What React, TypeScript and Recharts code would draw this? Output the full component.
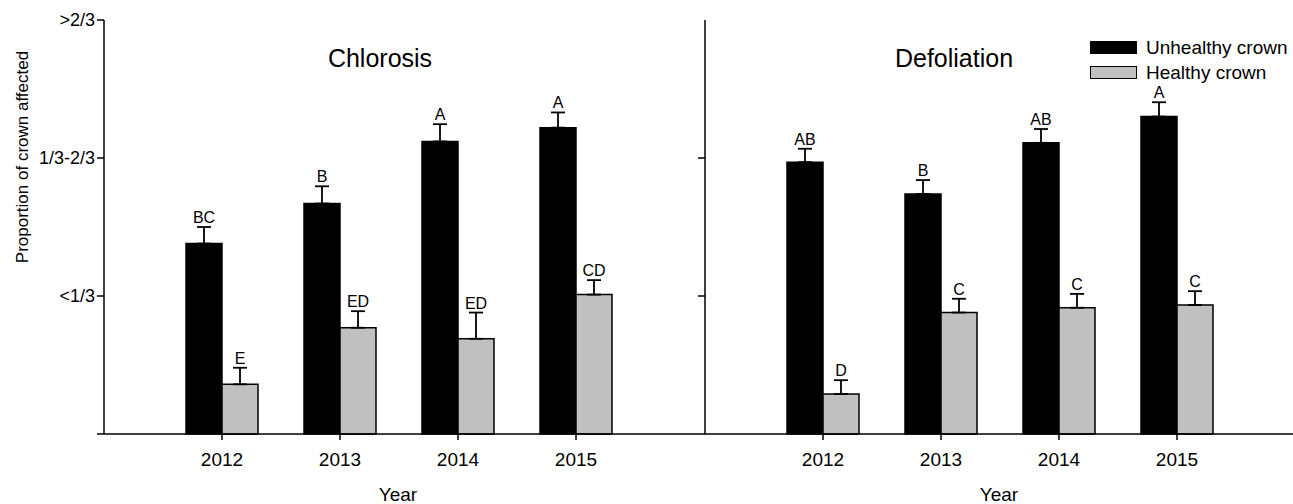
import React from 'react';
import { BarChart, Bar, XAxis, YAxis, ErrorBar, LabelList, Legend } from 'recharts';

const years = ['2012', '2013', '2014', '2015'];
const yTickLabels = ['', '<1/3', '1/3-2/3', '>2/3'];

// Chlorosis panel
const chlUnhealthy = [1.38, 1.67, 2.12, 2.22];
const chlUnhealthyErr = [0.12, 0.125, 0.125, 0.11];
const chlUnhealthyLetters = ['BC', 'B', 'A', 'A'];
const chlHealthy = [0.36, 0.77, 0.69, 1.01];
const chlHealthyErr = [0.12, 0.12, 0.19, 0.105];
const chlHealthyLetters = ['E', 'ED', 'ED', 'CD'];

// Defoliation panel
const defUnhealthy = [1.97, 1.74, 2.11, 2.3];
const defUnhealthyErr = [0.097, 0.1, 0.1, 0.104];
const defUnhealthyLetters = ['AB', 'B', 'AB', 'A'];
const defHealthy = [0.29, 0.88, 0.915, 0.935];
const defHealthyErr = [0.1, 0.1, 0.1, 0.1];
const defHealthyLetters = ['D', 'C', 'C', 'C'];

const FONT = '"Liberation Sans", Arial, sans-serif';

const buildRows = (
  unhealthy: number[], unhealthyErr: number[], unhealthyLetters: string[],
  healthy: number[], healthyErr: number[], healthyLetters: string[]
) =>
  years.map((year, i) => ({
    year,
    unhealthy: unhealthy[i],
    unhealthyErr: [0, unhealthyErr[i]],
    unhealthyLetter: unhealthyLetters[i],
    healthy: healthy[i],
    healthyErr: [0, healthyErr[i]],
    healthyLetter: healthyLetters[i],
  }));

const chlRows = buildRows(chlUnhealthy, chlUnhealthyErr, chlUnhealthyLetters, chlHealthy, chlHealthyErr, chlHealthyLetters);
const defRows = buildRows(defUnhealthy, defUnhealthyErr, defUnhealthyLetters, defHealthy, defHealthyErr, defHealthyLetters);

// letter sits just above the error bar cap
const letterLabel = (rows: any[], key: 'unhealthy' | 'healthy') => (props: any) => {
  const { x, y, width, height, index, value } = props;
  const v = rows[index][key];
  const e = rows[index][key + 'Err'][1];
  const top = Number(y) - (e * Number(height)) / v;
  return (
    <text x={Number(x) + Number(width) / 2} y={top - 4} textAnchor="middle" fontSize={16} fill="#000">
      {value}
    </text>
  );
};

const LegendBox = () => (
  <div style={{ fontFamily: FONT, fontSize: 19, color: '#000', lineHeight: '25px' }}>
    <div style={{ display: 'flex', alignItems: 'center' }}>
      <div style={{ width: 47, height: 13, background: '#000', marginRight: 9 }} />
      <span>Unhealthy crown</span>
    </div>
    <div style={{ display: 'flex', alignItems: 'center' }}>
      <div style={{ width: 47, height: 13, background: '#c0c0c0', border: '1.5px solid #000', boxSizing: 'border-box', marginRight: 9 }} />
      <span>Healthy crown</span>
    </div>
  </div>
);

interface PanelProps {
  rows: any[];
  width: number;
  yAxisWidth: number;
  yTicks: number[];
  showLabels: boolean;
  padRight: number;
  marginRight: number;
  legend?: boolean;
}

const Panel = ({ rows, width, yAxisWidth, yTicks, showLabels, padRight, marginRight, legend }: PanelProps) => (
  <BarChart
    width={width}
    height={504}
    data={rows}
    margin={{ top: 20, right: marginRight, bottom: 20, left: 0 }}
    barSize={36}
    barGap={0}
  >
    <XAxis
      dataKey="year"
      padding={{ left: 59, right: padRight }}
      height={50}
      tickSize={6}
      tickMargin={13}
      axisLine={{ stroke: '#000', strokeWidth: 1.5 }}
      tickLine={{ stroke: '#000', strokeWidth: 1.5 }}
      tick={{ fill: '#000', fontSize: 19 }}
    />
    <YAxis
      type="number"
      domain={[0, 3]}
      ticks={yTicks}
      interval={0}
      width={yAxisWidth}
      tickSize={7}
      tickMargin={2}
      tickFormatter={(v: number) => (showLabels ? yTickLabels[v] : '')}
      axisLine={{ stroke: '#000', strokeWidth: 1.5 }}
      tickLine={{ stroke: '#000', strokeWidth: 1.5 }}
      tick={{ fill: '#000', fontSize: 18 }}
    />
    {legend && (
      <Legend
        layout="vertical"
        align="center"
        verticalAlign="middle"
        wrapperStyle={{ left: 450, top: 35, width: 220 }}
        content={() => <LegendBox />}
      />
    )}
    <Bar dataKey="unhealthy" name="Unhealthy crown" fill="#000" stroke="#000" strokeWidth={1.5} isAnimationActive={false}>
      <ErrorBar dataKey="unhealthyErr" width={7} stroke="#000" strokeWidth={1.8} direction="y" />
      <LabelList dataKey="unhealthyLetter" content={letterLabel(rows, 'unhealthy')} />
    </Bar>
    <Bar dataKey="healthy" name="Healthy crown" fill="#c0c0c0" stroke="#000" strokeWidth={1.5} isAnimationActive={false}>
      <ErrorBar dataKey="healthyErr" width={7} stroke="#000" strokeWidth={1.8} direction="y" />
      <LabelList dataKey="healthyLetter" content={letterLabel(rows, 'healthy')} />
    </Bar>
  </BarChart>
);

const centered = (x: number, y: number, size: number, extra: React.CSSProperties = {}): React.CSSProperties => ({
  position: 'absolute',
  left: x,
  top: y,
  transform: 'translate(-50%, -50%)',
  fontSize: size,
  lineHeight: 1,
  whiteSpace: 'nowrap',
  color: '#000',
  ...extra,
});

export default function App() {
  return (
    <div style={{ position: 'absolute', left: 0, top: 0, width: 1293, height: 504, background: '#fff', fontFamily: FONT, overflow: 'hidden' }}>
      <div style={{ position: 'absolute', left: 0, top: 0 }}>
        <Panel rows={chlRows} width={700} yAxisWidth={104} yTicks={[0, 1, 2, 3]} showLabels padRight={63} marginRight={2} />
      </div>
      <div style={{ position: 'absolute', left: 640, top: 0 }}>
        <Panel rows={defRows} width={653} yAxisWidth={65} yTicks={[0, 1, 2]} showLabels={false} padRight={57} marginRight={0} legend />
      </div>
      <div style={centered(380, 58, 25)}>Chlorosis</div>
      <div style={centered(954, 58, 25)}>Defoliation</div>
      <div style={centered(22, 157, 17, { transform: 'translate(-50%, -50%) rotate(-90deg)' })}>Proportion of crown affected</div>
      <div style={centered(398, 494, 19)}>Year</div>
      <div style={centered(999, 494, 19)}>Year</div>
    </div>
  );
}
